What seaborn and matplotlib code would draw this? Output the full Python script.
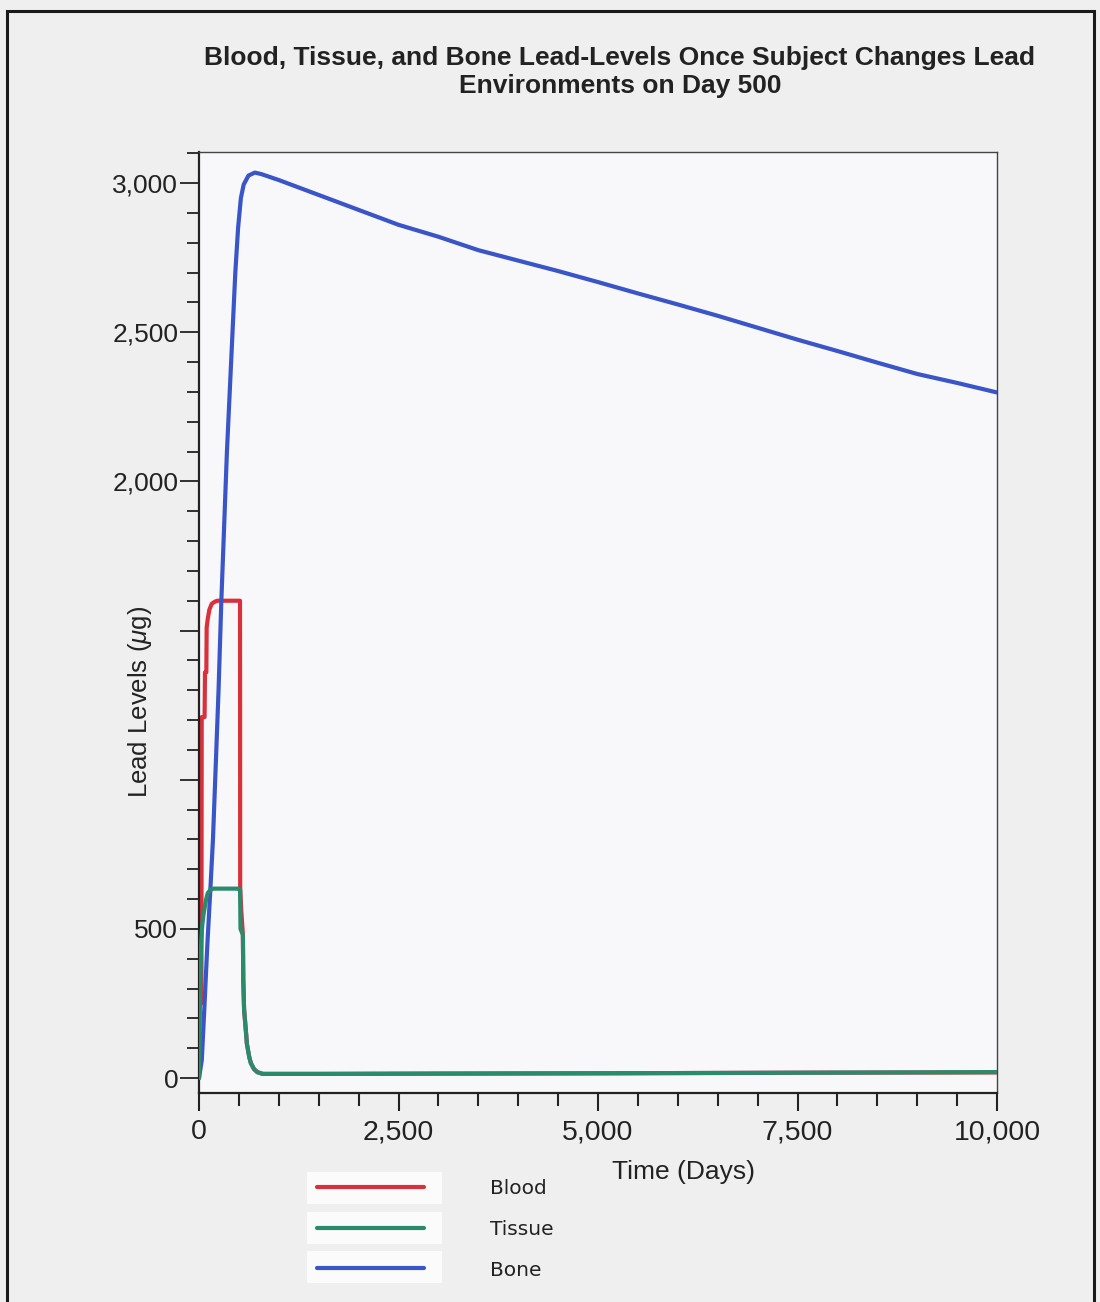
import matplotlib
matplotlib.use("Agg")
import matplotlib.pyplot as plt
from matplotlib.lines import Line2D
from matplotlib.patches import Rectangle
from matplotlib.ticker import FixedLocator, MultipleLocator
import seaborn as sns
import pandas as pd

# ---------------- data ----------------
blood_days = [0, 2, 30, 34, 70, 75, 92, 96, 110, 130, 160, 200, 230, 514,
              516, 530, 550, 555, 565, 590, 600, 630, 650, 690, 730, 800,
              1500, 3000, 5000, 7500, 10000]
blood_vals = [0, 250, 250, 1210, 1210, 1360, 1360, 1510, 1540, 1570, 1590,
              1597, 1600, 1600, 640, 560, 480, 330, 230, 150, 115, 70, 50,
              30, 20, 14, 14, 15, 16, 18, 19]

tissue_days = [0, 5, 12, 20, 28, 40, 55, 70, 90, 110, 140, 180, 300, 500,
               515, 520, 550, 555, 565, 590, 600, 630, 650, 690, 730, 800,
               1500, 3000, 5000, 7500, 10000]
tissue_vals = [0, 120, 260, 380, 460, 510, 545, 570, 600, 620, 630, 635,
               635, 635, 630, 500, 480, 330, 230, 150, 115, 70, 50, 30, 20,
               14, 14, 15, 16, 18, 20]

bone_days = [0, 35, 70, 105, 140, 175, 210, 245, 280, 315, 350, 385, 420,
             455, 490, 525, 560, 620, 700, 780, 1000, 1500, 2000, 2500, 3000,
             3500, 4000, 4500, 5000, 5500, 6000, 6500, 7000, 7500, 8000,
             8500, 9000, 9500, 10000]
bone_vals = [0, 60, 250, 450, 620, 800, 1050, 1300, 1600, 1850, 2100, 2300,
             2500, 2700, 2850, 2950, 2995, 3025, 3035, 3030, 3010, 2960,
             2910, 2860, 2820, 2775, 2740, 2705, 2668, 2630, 2593, 2555,
             2515, 2475, 2437, 2398, 2360, 2330, 2298]

series_names = ["Blood", "Tissue", "Bone"]
series_colors = ["#d9303c", "#2a8a6c", "#3a55c8"]

title_text = ("Blood, Tissue, and Bone Lead-Levels Once Subject Changes Lead\n"
              "Environments on Day 500")
x_label = "Time (Days)"
y_label = r"Lead Levels ($\mu$g)"
x_ticks = [0, 2500, 5000, 7500, 10000]
x_tick_labels = ["0", "2,500", "5,000", "7,500", "10,000"]
y_ticks = [0, 500, 1000, 1500, 2000, 2500, 3000]
y_tick_labels = ["0", "500", "", "", "2,000", "2,500", "3,000"]

# ---------------- figure ----------------
W, H = 1100, 1302
sns.set_theme(style="white")
plt.rcParams["font.family"] = ["Liberation Sans", "DejaVu Sans"]
plt.rcParams["mathtext.fontset"] = "custom"
plt.rcParams["mathtext.it"] = "Liberation Sans:italic"
plt.rcParams["mathtext.rm"] = "Liberation Sans"

fig = plt.figure(figsize=(W / 100, H / 100), dpi=100)
fig.patch.set_facecolor("#efefef")


def fx(px):
    return px / W


def fy(py):
    return 1 - py / H


ax = fig.add_axes([fx(199), fy(1093), fx(997) - fx(199), fy(152) - fy(1093)])
ax.set_facecolor("#f8f8fa")

frames = []
for name, d, v in [("Blood", blood_days, blood_vals),
                   ("Bone", bone_days, bone_vals),
                   ("Tissue", tissue_days, tissue_vals)]:
    frames.append(pd.DataFrame({"day": d, "value": v, "series": name}))

palette = dict(zip(series_names, series_colors))
for i, f in enumerate(frames):
    name = f["series"].iloc[0]
    sns.lineplot(data=f, x="day", y="value", color=palette[name], lw=3.0,
                 estimator=None, sort=False, ax=ax, legend=False,
                 zorder=2 + i)

ax.set_xlim(0, 10000)
ax.set_ylim(-50, 3104)

ax.xaxis.set_major_locator(FixedLocator(x_ticks))
ax.set_xticklabels(x_tick_labels)
ax.xaxis.set_minor_locator(MultipleLocator(500))
ax.yaxis.set_major_locator(FixedLocator(y_ticks))
ax.set_yticklabels(y_tick_labels)
ax.yaxis.set_minor_locator(MultipleLocator(100))

ax.tick_params(axis="x", which="major", direction="out", length=13, width=1.5,
               color="#222222", labelsize=20.5, pad=6, bottom=True,
               labelcolor="#222222")
ax.tick_params(axis="x", which="minor", direction="out", length=9, width=1.5,
               color="#222222", bottom=True)
ax.tick_params(axis="y", which="major", direction="out", length=14, width=1.3,
               color="#222222", labelsize=19, pad=1, left=True,
               labelcolor="#222222")
ax.tick_params(axis="y", which="minor", direction="out", length=9, width=1.3,
               color="#222222", left=True)

for side in ["left", "bottom"]:
    ax.spines[side].set_color("#222222")
    ax.spines[side].set_linewidth(1.6)
for side in ["top", "right"]:
    ax.spines[side].set_color("#444444")
    ax.spines[side].set_linewidth(1.0)

ax.set_xlabel(x_label, fontsize=19, color="#222222")
ax.xaxis.set_label_coords((683 - 199) / 798, (1093 - 1172) / 941)
ax.xaxis.label.set_va("center")
ax.set_ylabel(y_label, fontsize=18.5, color="#222222")
ax.yaxis.set_label_coords((140 - 199) / 798, (1093 - 702) / 941)
ax.yaxis.label.set_va("center")

fig.text(fx(620), fy(72), title_text, ha="center", va="center",
         fontsize=19, fontweight="bold", color="#222222",
         linespacing=1.22)

# outer frame
fig.patches.append(Rectangle((fx(7), fy(1320)), fx(1094) - fx(7),
                             fy(11) - fy(1320), transform=fig.transFigure,
                             fill=False, edgecolor="#1a1a1a", lw=2.2,
                             zorder=0))

# legend: white boxes behind each swatch
rows_y = [1188, 1228, 1267]
for ry in rows_y:
    fig.patches.append(Rectangle((fx(307), fy(ry + 16)), fx(442) - fx(307),
                                 fy(ry - 16) - fy(ry + 16),
                                 transform=fig.transFigure,
                                 facecolor="#fbfbfb", edgecolor="none",
                                 zorder=0))

handles = [Line2D([], [], color=c, lw=3.0) for c in series_colors]
leg = fig.legend(handles, series_names, loc="upper left",
                 bbox_to_anchor=(fx(317), fy(1179)), frameon=False,
                 handlelength=5.3, handletextpad=3.3, labelspacing=1.08,
                 borderpad=0, borderaxespad=0,
                 prop={"family": "DejaVu Sans", "size": 14.5})
for t in leg.get_texts():
    t.set_color("#222222")

fig.savefig("out.png", dpi=100, facecolor=fig.get_facecolor())
